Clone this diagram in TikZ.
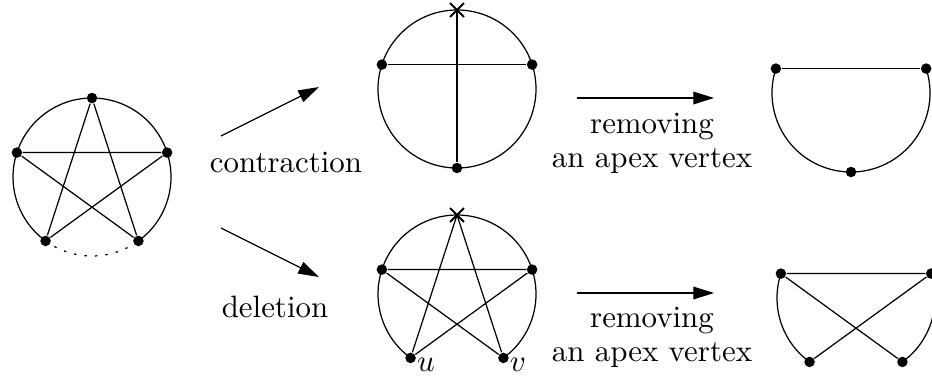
\documentclass[tikz,border=0pt]{standalone}
\usetikzlibrary{arrows.meta, shapes.misc, positioning}
\tikzset{
    vtx/.style = {circle, fill=black, inner sep=0pt, minimum size=3.4pt},
    apex/.style = {cross out, draw, semithick, inner sep=0pt, minimum size=3.9pt},
    arrow/.style = {-{Triangle[length=6.7pt, width=4.1pt]}},
    lbl/.style = {align=center, inner sep=0pt, font=\fontsize{10}{11}\selectfont},
    gap/.style = {dash pattern=on 0.8pt off 2.6pt}
}

\begin{document}
\begin{tikzpicture}[x=0.3236pt, y=0.3236pt]
    \useasboundingbox (0,-377) rectangle (932,0);

    % Original graph: pentagram on a cycle
    \begin{scope}[shift={(92,-177)}]
        \foreach \i/\a in {1/90, 2/162, 3/234, 4/306, 5/18}
            \node[vtx] (p\i) at (\a:79) {};
        \draw (p4.center) arc[start angle=-54, end angle=234, radius=79];
        \draw[gap] (p3.center) arc[start angle=234, end angle=306, radius=79];
        \draw (p1) -- (p3) (p1) -- (p4) (p2) -- (p5) (p2) -- (p4) (p5) -- (p3);
    \end{scope}

    % Contraction
    \begin{scope}[shift={(457,-89)}]
        \draw (0,0) circle[radius=79];
        \node[apex] (cx) at (90:79) {};
        \foreach \i/\a in {2/162, 3/270, 5/18}
            \node[vtx] (c\i) at (\a:79) {};
        \draw (cx.center) -- (c3) (c2) -- (c5);
    \end{scope}

    % Deletion
    \begin{scope}[shift={(457,-294)}]
        \foreach \i/\a in {2/162, 3/234, 4/306, 5/18}
            \node[vtx] (d\i) at (\a:79) {};
        \draw (d4.center) arc[start angle=-54, end angle=234, radius=79];
        \node[apex] (dx) at (90:79) {};
        \draw (dx.center) -- (d3) (dx.center) -- (d4) (d2) -- (d5) (d2) -- (d4) (d5) -- (d3);
        \node[anchor=north west, inner sep=0pt] (ulbl) at (d3.east) {$u$};
        \node[anchor=north west, inner sep=0pt] (vlbl) at (d4.east) {$v$};
    \end{scope}

    % Contraction minus apex
    \begin{scope}[shift={(851,-93)}]
        \foreach \i/\a in {2/162, 3/270, 5/18}
            \node[vtx] (r\i) at (\a:79) {};
        \draw (r2.center) arc[start angle=162, end angle=378, radius=79];
        \draw (r2) -- (r5);
    \end{scope}

    % Deletion minus apex
    \begin{scope}[shift={(856,-298)}]
        \foreach \i/\a in {2/162, 3/234, 4/306, 5/18}
            \node[vtx] (s\i) at (\a:79) {};
        \draw (s2.center) arc[start angle=162, end angle=234, radius=79];
        \draw (s4.center) arc[start angle=-54, end angle=18, radius=79];
        \draw (s2) -- (s5) (s2) -- (s4) (s5) -- (s3);
    \end{scope}

    % Operations
    \coordinate (ca1) at (221,-136);
    \coordinate (ca2) at (319,-87);
    \coordinate (da1) at (221,-228);
    \coordinate (da2) at (319,-277);
    \draw[arrow] (ca1) -- (ca2);
    \draw[arrow] (da1) -- (da2);
    \node[lbl, anchor=base] (contr) at (286,-172) {contraction};
    \node[lbl, anchor=base] (del) at (275,-317) {deletion};

    \coordinate (ra1) at (577,-98);
    \coordinate (ra2) at (714,-98);
    \coordinate (rb1) at (577,-293);
    \coordinate (rb2) at (714,-293);
    \draw[arrow] (ra1) -- (ra2);
    \draw[arrow] (rb1) -- (rb2);
    \node[lbl, anchor=north] (rmtop) at (652,-112.4) {removing\\an apex vertex};
    \node[lbl, anchor=north] (rmbot) at (652,-306.4) {removing\\an apex vertex};

\end{tikzpicture}
\end{document}
